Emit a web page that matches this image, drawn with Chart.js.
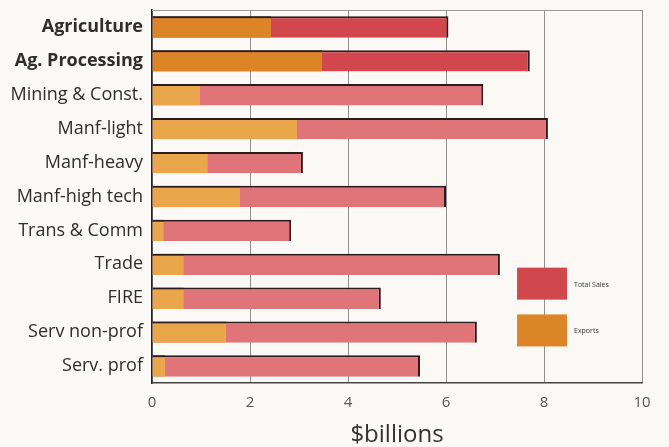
<!DOCTYPE html>
<html>
<head>
<meta charset="utf-8">
<script src="https://cdn.jsdelivr.net/npm/chart.js@4"></script>
<style>
  html, body { margin: 0; padding: 0; background: #fbf9f5; }
  #wrap { width: 669px; height: 447px; }
</style>
</head>
<body>
<div id="wrap"><canvas id="c" width="669" height="447"></canvas></div>
<script>
// Sectors, top to bottom
const sectors = ['Agriculture', 'Ag. Processing', 'Mining \u0026 Const.', 'Manf-light', 'Manf-heavy',
  'Manf-high tech', 'Trans \u0026 Comm', 'Trade', 'FIRE', 'Serv non-prof', 'Serv. prof'];
// Values in $billions
const totalSales = [6.05, 7.71, 6.76, 8.08, 3.08, 6.0, 2.84, 7.1, 4.67, 6.63, 5.47];
const exportsVal = [2.43, 3.47, 0.98, 2.96, 1.14, 1.8, 0.24, 0.65, 0.65, 1.51, 0.27];
const xTicks = [0, 2, 4, 6, 8, 10];

// Highlighted (agricultural) sectors get the strong colours and bold labels
const highlighted = [true, true, false, false, false, false, false, false, false, false, false];
const salesStrong = '#d2474d', salesSoft = '#df7479';
const exportStrong = '#dc8527', exportSoft = '#e9a64b';
const edge = '#2a1c1c';

const frame = {
  id: 'frame',
  beforeDatasetsDraw(chart) {
    const { ctx, chartArea: a } = chart;
    ctx.save();
    ctx.strokeStyle = '#9a9a9a';
    ctx.lineWidth = 1;
    ctx.beginPath();
    ctx.moveTo(a.left, a.top + 0.5);
    ctx.lineTo(a.right, a.top + 0.5);
    ctx.stroke();
    ctx.restore();
  }
};

const keyBox = {
  id: 'keyBox',
  afterDatasetsDraw(chart) {
    const { ctx } = chart;
    const xs = chart.scales.x, ys = chart.scales.y;
    const x0 = xs.getPixelForValue(7.45);
    const w = xs.getPixelForValue(8.47) - x0;
    const rows = [
      { label: 'Total Sales', color: salesStrong, at: 7.57 },
      { label: 'Exports', color: exportStrong, at: 8.95 }
    ];
    ctx.save();
    rows.forEach(r => {
      const yc = ys.getPixelForValue(r.at);
      ctx.fillStyle = r.color;
      ctx.fillRect(x0, yc - 16, w, 32);
      ctx.fillStyle = '#333';
      ctx.font = '7px "Open Sans"';
      ctx.textBaseline = 'middle';
      ctx.fillText(r.label, x0 + w + 7, yc + 1);
    });
    ctx.restore();
  }
};

new Chart(document.getElementById('c'), {
  type: 'bar',
  data: {
    labels: sectors,
    datasets: [
      {
        label: 'Exports',
        data: exportsVal,
        order: 0,
        backgroundColor: highlighted.map(h => h ? exportStrong : exportSoft),
        borderColor: edge,
        borderWidth: { top: 2, right: 0, bottom: 0, left: 0 },
        borderSkipped: false,
        categoryPercentage: 1,
        barPercentage: 0.63
      },
      {
        label: 'Total Sales',
        data: totalSales,
        order: 1,
        backgroundColor: highlighted.map(h => h ? salesStrong : salesSoft),
        borderColor: edge,
        borderWidth: { top: 2, right: 2, bottom: 0, left: 0 },
        borderSkipped: false,
        categoryPercentage: 1,
        barPercentage: 0.63
      }
    ]
  },
  options: {
    indexAxis: 'y',
    responsive: false,
    animation: false,
    layout: { padding: { top: 10, right: 27, bottom: 0, left: 0 } },
    plugins: { legend: { display: false }, tooltip: { enabled: false } },
    scales: {
      x: {
        min: 0, max: 10,
        afterBuildTicks(s) { s.ticks = xTicks.map(v => ({ value: v })); },
        grid: { color: '#8f8f8f', lineWidth: 1, drawTicks: false },
        border: { color: '#444', width: 1.5 },
        ticks: { color: '#555', font: { family: 'Open Sans', size: 15 }, padding: 11 },
        title: { display: true, text: '$billions', color: '#333',
          font: { family: 'Open Sans', size: 24, lineHeight: 1.0 }, padding: { top: 0, bottom: 0 } }
      },
      y: {
        stacked: true,
        afterFit(s) { s.width = 152; s.paddingTop = 0; s.paddingBottom = 0; },
        grid: { display: false, drawTicks: false },
        border: { color: '#222', width: 1.5 },
        ticks: {
          color: '#2e2e2e',
          padding: 9,
          font: ctx => ({ family: 'Open Sans', size: 18, weight: highlighted[ctx.index] ? 'bold' : 'normal' })
        }
      }
    }
  },
  plugins: [frame, keyBox]
});
</script>
</body>
</html>
